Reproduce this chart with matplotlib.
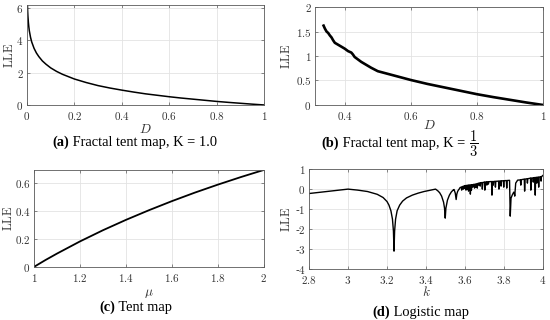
import matplotlib
matplotlib.use("Agg")
import matplotlib.pyplot as plt

plt.rcParams['mathtext.fontset'] = 'cm'
plt.rcParams['font.family'] = ['DejaVu Serif']

# (a) Fractal tent map, K = 1.0
a_D = [0.002, 0.003, 0.004, 0.006, 0.008, 0.01, 0.015, 0.02, 0.03, 0.04, 0.05, 0.065,
       0.08, 0.1, 0.125, 0.15, 0.2, 0.25, 0.3, 0.35, 0.4, 0.45, 0.5, 0.55, 0.6, 0.65,
       0.7, 0.75, 0.8, 0.85, 0.9, 0.95, 1.0]
a_L = [6.2, 5.8, 5.52, 5.12, 4.83, 4.6, 4.2, 3.91, 3.51, 3.22, 3.0, 2.73,
       2.53, 2.3, 2.08, 1.9, 1.61, 1.39, 1.2, 1.05, 0.92, 0.8, 0.69, 0.6, 0.51, 0.43,
       0.36, 0.29, 0.22, 0.16, 0.105, 0.05, 0.0]

# (b) Fractal tent map, K = 1/3
b_D = [0.336, 0.34, 0.345, 0.35, 0.355, 0.36, 0.365, 0.37, 0.38, 0.39, 0.40, 0.41,
       0.42, 0.425, 0.43, 0.44, 0.45, 0.46, 0.48, 0.50, 0.55, 0.60, 0.65, 0.70, 0.75,
       0.80, 0.85, 0.90, 0.95, 1.0]
b_L = [1.62, 1.56, 1.5, 1.47, 1.42, 1.38, 1.32, 1.27, 1.23, 1.19, 1.15, 1.1,
       1.07, 1.03, 0.98, 0.93, 0.88, 0.84, 0.76, 0.69, 0.6, 0.51, 0.43, 0.36, 0.29,
       0.22, 0.16, 0.105, 0.05, 0.0]

# (c) Tent map
c_mu = [1.0, 1.05, 1.1, 1.2, 1.3, 1.4, 1.5, 1.6, 1.7, 1.8, 1.9, 2.0]
c_L = [0.0, 0.049, 0.095, 0.182, 0.262, 0.336, 0.405, 0.47, 0.531, 0.588, 0.642, 0.693]

# (d) Logistic map
d_k = [2.80, 2.90, 3.00, 3.05, 3.10, 3.15, 3.18, 3.20, 3.21, 3.22, 3.228, 3.233, 3.236,
       3.239, 3.244, 3.252, 3.265, 3.28, 3.30, 3.33, 3.36, 3.39, 3.42, 3.449,
       3.46, 3.47, 3.48, 3.49, 3.495, 3.4986, 3.502, 3.51, 3.52, 3.53, 3.54, 3.544,
       3.55, 3.5546, 3.558, 3.562, 3.566, 3.570, 3.575,
       3.581, 3.583, 3.585, 3.590, 3.592, 3.594, 3.597, 3.598, 3.599, 3.603, 3.605, 3.607,
       3.610, 3.612, 3.614, 3.616, 3.618, 3.620, 3.625, 3.6275, 3.630, 3.633, 3.635, 3.638,
       3.640, 3.642, 3.647, 3.649, 3.651, 3.653, 3.655, 3.657, 3.661, 3.663, 3.665,
       3.668, 3.670, 3.672, 3.676, 3.678, 3.680, 3.687, 3.6889, 3.691, 3.700, 3.7016, 3.703,
       3.710, 3.712, 3.714, 3.718, 3.720, 3.722, 3.736, 3.7382, 3.741, 3.743, 3.745, 3.747,
       3.754, 3.756, 3.758, 3.772, 3.774, 3.776, 3.783, 3.785, 3.787, 3.797, 3.7985, 3.800,
       3.812, 3.814, 3.816, 3.8284, 3.8319, 3.836, 3.842, 3.850, 3.853, 3.855, 3.857,
       3.860, 3.870, 3.884, 3.886, 3.888, 3.904, 3.9057, 3.908, 3.918, 3.920, 3.922,
       3.936, 3.9375, 3.939, 3.948, 3.950, 3.952, 3.958, 3.9602, 3.962, 3.966, 3.968, 3.970,
       3.976, 3.9778, 3.980, 3.988, 3.990, 3.992, 4.000]
d_L = [-0.22, -0.11, 0.00, -0.05, -0.12, -0.26, -0.42, -0.62, -0.80, -1.08, -1.50, -2.10, -3.10,
       -2.10, -1.50, -1.08, -0.80, -0.60, -0.44, -0.30, -0.20, -0.12, -0.06, 0.00,
       -0.08, -0.18, -0.35, -0.65, -0.95, -1.45, -0.95, -0.55, -0.30, -0.14, -0.04, -0.02,
       -0.20, -0.52, -0.25, -0.12, -0.05, 0.00, 0.08,
       0.10, -0.05, 0.11, 0.14, 0.00, 0.15, 0.16, 0.05, 0.17, 0.18, -0.05, 0.18,
       0.19, 0.00, 0.19, 0.20, -0.10, 0.20, 0.21, -0.25, 0.21, -0.05, 0.22, 0.22,
       0.10, 0.23, 0.24, 0.05, 0.24, 0.25, 0.10, 0.25, 0.27, 0.05, 0.28,
       0.29, 0.20, 0.30, 0.31, 0.15, 0.31, 0.33, 0.00, 0.33, 0.35, -0.05, 0.35,
       0.36, 0.20, 0.36, 0.37, 0.25, 0.37, 0.38, -0.30, 0.38, 0.38, 0.20, 0.38,
       0.39, 0.10, 0.39, 0.40, 0.00, 0.40, 0.41, 0.15, 0.41, 0.42, 0.10, 0.42,
       0.43, 0.05, 0.43, 0.44, -1.35, -0.45, -0.30, -0.15, -0.20, -0.35, -0.10,
       0.30, 0.45, 0.46, 0.20, 0.47, 0.50, -0.10, 0.50, 0.52, 0.30, 0.52,
       0.55, -0.05, 0.55, 0.56, 0.35, 0.56, 0.58, -0.30, 0.58, 0.59, 0.30, 0.59,
       0.60, 0.10, 0.60, 0.62, 0.40, 0.62, 0.69]

fig = plt.figure(figsize=(5.5, 3.2), dpi=100)

GRID = '#e3e3e3'
SPINE = '#5a5a5a'
TICKC = '#333333'
FS = 8


def fmt(s):
    if s.startswith('-'):
        return '-$%s$' % s[1:]
    return '$%s$' % s


def style(ax, xticks, xlabels, yticks, ylabels, xlim, ylim):
    ax.set_xlim(*xlim)
    ax.set_ylim(*ylim)
    ax.set_xticks(xticks)
    ax.set_xticklabels([fmt(s) for s in xlabels], fontsize=FS, color=TICKC)
    ax.set_yticks(yticks)
    ax.set_yticklabels([fmt(s) for s in ylabels], fontsize=FS, color=TICKC)
    ax.grid(True, color=GRID, linewidth=0.6)
    ax.set_axisbelow(True)
    for s in ax.spines.values():
        s.set_color(SPINE)
        s.set_linewidth(0.6)
    ax.tick_params(direction='in', length=2.5, width=0.5, color=SPINE, pad=2.5,
                   top=True, right=True)
    ax.tick_params(axis='x', pad=3.5)


ax_a = fig.add_axes([0.049, 0.672, 0.431, 0.3125])
ax_a.plot(a_D, a_L, color='black', lw=1.1)
style(ax_a, [0, 0.2, 0.4, 0.6, 0.8, 1], ['0', '0.2', '0.4', '0.6', '0.8', '1'],
      [0, 2, 4, 6], ['0', '2', '4', '6'], (0, 1), (0, 6.2))

ax_b = fig.add_axes([0.5727, 0.672, 0.4145, 0.306])
ax_b.plot(b_D, b_L, color='black', lw=1.9)
style(ax_b, [0.4, 0.6, 0.8, 1], ['0.4', '0.6', '0.8', '1'],
      [0, 0.5, 1, 1.5, 2], ['0', '0.5', '1', '1.5', '2'], (0.31, 1), (0, 2))

ax_c = fig.add_axes([0.0618, 0.166, 0.418, 0.303])
ax_c.plot(c_mu, c_L, color='black', lw=1.3)
style(ax_c, [1, 1.2, 1.4, 1.6, 1.8, 2], ['1', '1.2', '1.4', '1.6', '1.8', '2'],
      [0, 0.2, 0.4, 0.6], ['0', '0.2', '0.4', '0.6'], (1, 2), (0, 0.693))

ax_d = fig.add_axes([0.5618, 0.159, 0.4255, 0.3125])
ax_d.plot(d_k, d_L, color='black', lw=1.0)
style(ax_d, [2.8, 3, 3.2, 3.4, 3.6, 3.8, 4], ['2.8', '3', '3.2', '3.4', '3.6', '3.8', '4'],
      [-4, -3, -2, -1, 0, 1], ['-4', '-3', '-2', '-1', '0', '1'], (2.8, 4), (-4, 1))

for ax, xl, xlab_y, ylab_x in [(ax_a, '$D$', -0.25, -0.075),
                               (ax_b, '$D$', -0.205, -0.123),
                               (ax_c, r'$\mu$', -0.27, -0.112),
                               (ax_d, '$k$', -0.23, -0.094)]:
    ax.set_xlabel(xl, fontsize=9.5, color=TICKC, va='center')
    ax.xaxis.set_label_coords(0.5, xlab_y)
    ax.set_ylabel(r'$\mathrm{LLE}$', fontsize=9, color=TICKC, va='center')
    ax.yaxis.set_label_coords(ylab_x, 0.5)

# captions
renderer = fig.canvas.get_renderer()
CAPFS = 10.4
CAPFAM = 'Liberation Serif'


def caption(cx, cy, bold, rest, extra=None):
    W, H = fig.get_size_inches() * fig.dpi
    t1 = fig.text(0, cy / H, bold, fontsize=CAPFS, weight='bold', va='baseline',
                  family=CAPFAM)
    t2 = fig.text(0, cy / H, rest, fontsize=CAPFS, va='baseline', family=CAPFAM)
    parts = [t1, t2]
    if extra is not None:
        t3 = fig.text(0, cy / H, extra, fontsize=CAPFS, va='baseline', family=CAPFAM)
        parts.append(t3)
    widths = [t.get_window_extent(renderer).width for t in parts]
    x = cx - sum(widths) / 2
    for t, w in zip(parts, widths):
        t.set_x(x / W)
        x += w


H = 320
caption(135, H - 146, '(a)', ' Fractal tent map, K = 1.0')
caption(400, H - 147, '(b)', ' Fractal tent map, K = ', r'$\dfrac{1}{3}$')
caption(136, H - 311, '(c)', ' Tent map')
caption(421, H - 316, '(d)', ' Logistic map')

fig.savefig('out.png', dpi=100)
